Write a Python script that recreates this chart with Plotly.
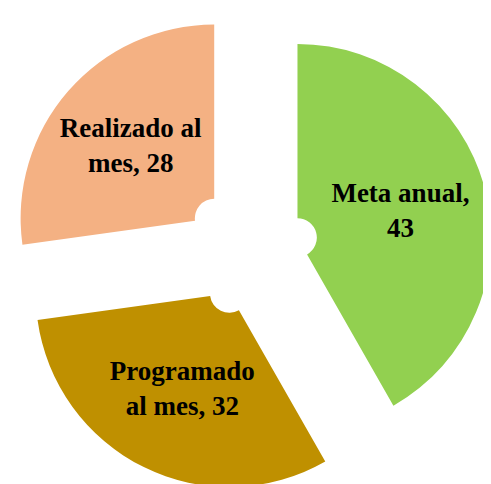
import plotly.graph_objects as go

labels = ["Meta anual", "Programado al mes", "Realizado al mes"]
values = [43, 32, 28]
label_lines = ["Meta anual,<br>", "Programado<br>al mes, ", "Realizado al<br>mes, "]
colors = ["#92D050", "#BF9000", "#F4B183"]

texts = [f"{t}{v}" for t, v in zip(label_lines, values)]

fig = go.Figure(go.Pie(
    labels=labels,
    values=values,
    text=texts,
    textinfo="text",
    textposition="inside",
    insidetextorientation="horizontal",
    sort=False,
    direction="clockwise",
    rotation=0,
    pull=[0.25, 0.25, 0.25],
    hole=0.1,
    marker=dict(colors=colors, line=dict(width=0)),
    textfont=dict(family="Liberation Serif", size=27, color="black", weight="bold"),
    showlegend=False,
    domain=dict(x=[0, 0.9886], y=[0, 1]),
))

fig.update_layout(
    width=491,
    height=484,
    margin=dict(l=0, r=0, t=0, b=0),
    paper_bgcolor="white",
    plot_bgcolor="white",
)

fig.write_html("out.html")
